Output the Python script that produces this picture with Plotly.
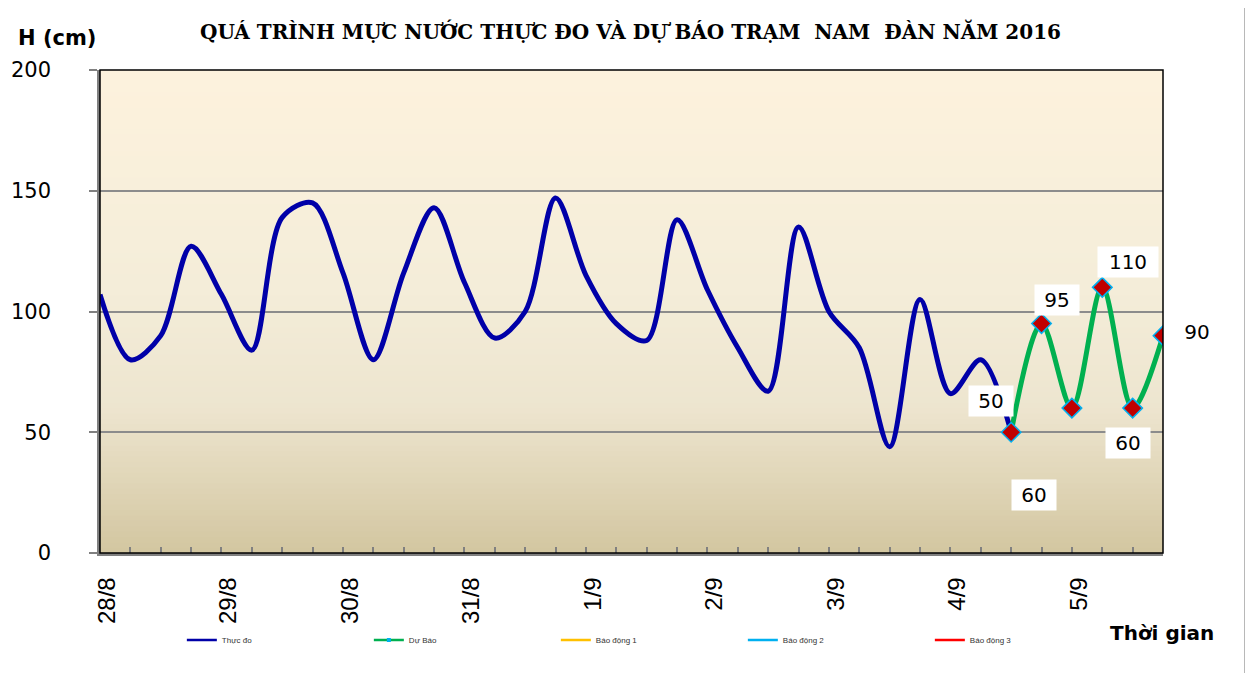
import plotly.graph_objects as go

# ---------------- data ----------------
day_labels = ["28/8", "29/8", "30/8", "31/8", "1/9", "2/9", "3/9", "4/9", "5/9"]
steps_per_day = 4
n_points = 36
x_idx = list(range(n_points))
tick_text = [day_labels[i // steps_per_day] if i % steps_per_day == 0 and i // steps_per_day < len(day_labels) else ""
             for i in x_idx]

observed = [107, 80, 90, 127, 107, 84, 139, 145, 116, 80, 116, 143, 112, 89, 100, 147,
            115, 95, 88, 138, 109, 85, 67, 135, 100, 85, 44, 105, 66, 80, 50]
forecast_x = [30, 31, 32, 33, 34, 35]
forecast = [50, 95, 60, 110, 60, 90]

title_text = "QUÁ TRÌNH MỰC NƯỚC THỰC ĐO VÀ DỰ BÁO TRẠM  NAM  ĐÀN NĂM 2016"
legend_names = ["Thực đo", "Dự Báo", "Báo động 1", "Báo động 2", "Báo động 3"]
legend_colors = ["#0000A8", "#00B050", "#FFC000", "#00B0F0", "#FF0000"]

# label offsets (pixels) for each forecast point label
label_shift = [(-20, 31), (15, 24), (-38, -87), (26, 25), (-5, -35), (34, 4)]

fig = go.Figure()

# background gradient strips
def lerp(c1, c2, t):
    return tuple(round(a + (b - a) * t) for a, b in zip(c1, c2))

stops = [(0.0, (253, 242, 221)), (0.45, (244, 237, 217)), (0.7, (237, 229, 207)), (1.0, (211, 198, 160))]
n_strips = 90
shapes = []
for k in range(n_strips):
    f = (k + 0.5) / n_strips
    for j in range(len(stops) - 1):
        if stops[j][0] <= f <= stops[j + 1][0]:
            t = (f - stops[j][0]) / (stops[j + 1][0] - stops[j][0])
            c = lerp(stops[j][1], stops[j + 1][1], t)
            break
    y1 = 1 - k / n_strips
    y0 = 1 - (k + 1) / n_strips - 0.002
    shapes.append(dict(type="rect", xref="x domain", yref="y domain", x0=0, x1=1, y0=max(y0, 0), y1=y1,
                       fillcolor="rgb(%d,%d,%d)" % c, line=dict(width=0), layer="below"))

shapes.append(dict(type="rect", xref="x domain", yref="y domain", x0=0, x1=1, y0=0, y1=1,
                   line=dict(color="#000000", width=1.5), layer="above"))
shapes.append(dict(type="rect", xref="paper", yref="paper", x0=-0.0885, x1=1.0771, y0=-0.30, y1=1.1346,
                   line=dict(color="#A6A6A6", width=1.5), layer="below"))

# data traces
fig.add_trace(go.Scatter(x=x_idx[:len(observed)], y=observed, mode="lines", showlegend=False,
                         line=dict(color=legend_colors[0], width=5, shape="spline", smoothing=0.9)))
fig.add_trace(go.Scatter(x=forecast_x, y=forecast, mode="lines", showlegend=False,
                         line=dict(color=legend_colors[1], width=5, shape="spline", smoothing=0.9)))
fig.add_trace(go.Scatter(x=forecast_x, y=forecast, mode="markers", showlegend=False,
                         marker=dict(symbol="diamond", size=15, color="#C00000",
                                     line=dict(color="#00B0F0", width=1.5))))

# legend entries
for i, (name, col) in enumerate(zip(legend_names, legend_colors)):
    if i == 1:
        fig.add_trace(go.Scatter(x=[None], y=[None], mode="lines+markers", name=name,
                                 line=dict(color=col, width=2.5),
                                 marker=dict(symbol="square", size=4, color="#00B0F0")))
    else:
        fig.add_trace(go.Scatter(x=[None], y=[None], mode="lines", name=name,
                                 line=dict(color=col, width=2.5)))

annotations = []
for xv, yv, (dx, dy) in zip(forecast_x, forecast, label_shift):
    s = str(yv)
    annotations.append(dict(x=xv, y=yv, xref="x", yref="y", text=s, showarrow=False,
                            xanchor="center", yanchor="middle",
                            xshift=dx, yshift=dy, bgcolor="#FFFFFF", borderpad=0,
                            width=12 + 16 * len(s), height=30,
                            font=dict(family="DejaVu Sans", size=20, color="#000000")))

annotations.append(dict(x=-0.040, y=1.066, xref="paper", yref="paper", text="<b>H (cm)</b>", showarrow=False,
                        xanchor="center", yanchor="middle",
                        font=dict(family="DejaVu Sans", size=21, color="#000000")))
annotations.append(dict(x=0.999, y=-0.1656, xref="paper", yref="paper", text="<b>Thời gian</b>", showarrow=False,
                        xanchor="center", yanchor="middle",
                        font=dict(family="DejaVu Sans", size=20, color="#000000")))

fig.update_layout(
    width=1245, height=665,
    margin=dict(l=92, r=90, t=62, b=120, autoexpand=False),
    paper_bgcolor="#FFFFFF",
    plot_bgcolor="rgba(0,0,0,0)",
    title=dict(text="<b>" + title_text + "</b>", x=0.5, xanchor="center", y=0.9639, yanchor="middle",
               font=dict(family="DejaVu Serif", size=20, color="#000000")),
    shapes=shapes,
    annotations=annotations,
    showlegend=True,
    legend=dict(orientation="h", x=0.077, y=-0.18, xanchor="left", yanchor="middle",
                font=dict(family="Liberation Sans, Arial", size=8, color="#333333"),
                entrywidth=142, entrywidthmode="pixels", bgcolor="rgba(0,0,0,0)"),
)

fig.update_xaxes(range=[0, n_points - 1], tickmode="array", tickvals=x_idx, ticktext=tick_text,
                 tickangle=-90, ticks="inside", ticklen=6, tickcolor="#808080", tickwidth=1.5,
                 ticklabelshift=7, ticklabelstandoff=12, automargin=False,
                 showline=True, linecolor="#808080", linewidth=2.5, showgrid=False, zeroline=False,
                 tickfont=dict(family="Liberation Sans, Arial", size=24, color="#000000"))
fig.update_yaxes(range=[0, 200], tickmode="array", tickvals=[0, 50, 100, 150, 200],
                 ticks="outside", ticklen=8, tickcolor="#808080", tickwidth=1.5,
                 ticklabelstandoff=34, automargin=False,
                 showline=True, linecolor="#808080", linewidth=2.5,
                 showgrid=True, gridcolor="#8C8C8C", gridwidth=1.5, zeroline=False,
                 tickfont=dict(family="DejaVu Sans", size=21, color="#000000"))

fig.write_html("out.html")
